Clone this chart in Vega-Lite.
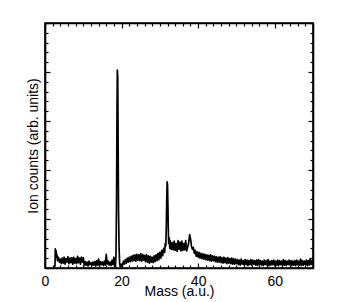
{
  "$schema": "https://vega.github.io/schema/vega-lite/v6.json",
  "autosize": {"type": "none"},
  "padding": {"left": 45, "top": 23, "right": 33, "bottom": 34},
  "width": 268,
  "height": 245,
  "background": "white",
  "config": {
    "view": {"stroke": "black", "strokeWidth": 1.6},
    "font": "Liberation Sans",
    "axis": {"domainColor": "black", "domainWidth": 1.6, "tickColor": "black", "tickWidth": 1.2, "labelColor": "black", "titleColor": "black", "labelFontSize": 14, "titleFontSize": 14, "titleFontWeight": "normal", "grid": false, "labelFont": "Liberation Sans", "titleFont": "Liberation Sans"}
  },
  "data": {"values": [
    {"m":2.5,"c":0.02},{"m":2.6,"c":0.05},{"m":2.7,"c":0.39},{"m":2.8,"c":0.30},{"m":2.9,"c":0.35},{"m":3.0,"c":0.22},{"m":3.1,"c":0.28},{"m":3.25,"c":0.15},{"m":3.5,"c":0.22},{"m":3.75,"c":0.12},{"m":4.0,"c":0.18},
    {"m":4.25,"c":0.09},{"m":4.5,"c":0.2},{"m":4.75,"c":0.1},{"m":5.0,"c":0.22},{"m":5.25,"c":0.08},{"m":5.5,"c":0.19},{"m":5.75,"c":0.12},{"m":6.0,"c":0.23},{"m":6.25,"c":0.09},{"m":6.5,"c":0.2},{"m":6.75,"c":0.11},{"m":7.0,"c":0.21},{"m":7.25,"c":0.08},{"m":7.5,"c":0.22},{"m":7.75,"c":0.1},{"m":8.0,"c":0.19},{"m":8.25,"c":0.09},{"m":8.5,"c":0.24},{"m":8.75,"c":0.11},{"m":9.0,"c":0.2},{"m":9.25,"c":0.08},{"m":9.5,"c":0.22},{"m":9.75,"c":0.12},{"m":10.0,"c":0.21},
    {"m":10.25,"c":0.05},{"m":10.5,"c":0.13},{"m":10.75,"c":0.06},{"m":11.0,"c":0.12},{"m":11.25,"c":0.04},{"m":11.5,"c":0.14},{"m":11.75,"c":0.07},{"m":12.0,"c":0.11},{"m":12.25,"c":0.05},{"m":12.5,"c":0.12},{"m":12.75,"c":0.06},{"m":13.0,"c":0.13},{"m":13.25,"c":0.04},{"m":13.5,"c":0.15},{"m":13.75,"c":0.06},{"m":14.0,"c":0.18},{"m":14.25,"c":0.05},{"m":14.5,"c":0.13},{"m":14.75,"c":0.07},{"m":15.0,"c":0.12},{"m":15.25,"c":0.05},{"m":15.5,"c":0.14},{"m":15.75,"c":0.06},{"m":16.0,"c":0.28},{"m":16.25,"c":0.08},{"m":16.5,"c":0.14},{"m":16.75,"c":0.06},{"m":17.0,"c":0.12},{"m":17.25,"c":0.05},{"m":17.5,"c":0.16},{"m":17.75,"c":0.07},{"m":18.0,"c":0.22},
    {"m":18.25,"c":0.04},{"m":18.4,"c":0.02},{"m":18.55,"c":0.3},{"m":18.7,"c":1.5},{"m":18.8,"c":3.2},{"m":18.9,"c":4.04},{"m":19.0,"c":3.9},{"m":19.1,"c":2.6},{"m":19.2,"c":1.2},{"m":19.35,"c":0.4},{"m":19.5,"c":0.1},{"m":19.65,"c":0.03},{"m":19.8,"c":0.02},{"m":20.0,"c":0.08},
    {"m":20.25,"c":0.06},{"m":20.5,"c":0.14},{"m":20.75,"c":0.08},{"m":21.0,"c":0.17},{"m":21.25,"c":0.1},{"m":21.5,"c":0.2},{"m":21.75,"c":0.12},{"m":22.0,"c":0.22},{"m":22.25,"c":0.13},{"m":22.5,"c":0.24},{"m":22.75,"c":0.14},{"m":23.0,"c":0.26},{"m":23.25,"c":0.15},{"m":23.5,"c":0.27},{"m":23.75,"c":0.14},{"m":24.0,"c":0.28},{"m":24.25,"c":0.16},{"m":24.5,"c":0.27},{"m":24.75,"c":0.15},{"m":25.0,"c":0.29},{"m":25.25,"c":0.14},{"m":25.5,"c":0.28},{"m":25.75,"c":0.16},{"m":26.0,"c":0.26},{"m":26.25,"c":0.13},{"m":26.5,"c":0.27},{"m":26.75,"c":0.12},{"m":27.0,"c":0.25},{"m":27.25,"c":0.1},{"m":27.5,"c":0.24},{"m":27.75,"c":0.12},{"m":28.0,"c":0.22},{"m":28.25,"c":0.11},{"m":28.5,"c":0.25},{"m":28.75,"c":0.13},{"m":29.0,"c":0.27},{"m":29.25,"c":0.15},{"m":29.5,"c":0.3},{"m":29.75,"c":0.17},{"m":30.0,"c":0.32},{"m":30.25,"c":0.2},{"m":30.5,"c":0.36},{"m":30.75,"c":0.25},{"m":31.0,"c":0.4},
    {"m":31.25,"c":0.32},{"m":31.4,"c":0.5},{"m":31.55,"c":0.45},{"m":31.7,"c":0.9},{"m":31.8,"c":1.4},{"m":31.9,"c":1.76},{"m":32.0,"c":1.7},{"m":32.1,"c":1.3},{"m":32.2,"c":0.8},{"m":32.3,"c":0.5},{"m":32.45,"c":0.62},{"m":32.6,"c":0.4},{"m":32.75,"c":0.55},{"m":33.0,"c":0.38},
    {"m":33.25,"c":0.52},{"m":33.5,"c":0.37},{"m":33.75,"c":0.55},{"m":34.0,"c":0.36},{"m":34.25,"c":0.5},{"m":34.5,"c":0.34},{"m":34.75,"c":0.56},{"m":35.0,"c":0.38},{"m":35.25,"c":0.53},{"m":35.5,"c":0.35},{"m":35.75,"c":0.55},{"m":36.0,"c":0.36},{"m":36.25,"c":0.5},{"m":36.5,"c":0.37},{"m":36.75,"c":0.56},{"m":37.0,"c":0.35},
    {"m":37.25,"c":0.42},{"m":37.5,"c":0.5},{"m":37.65,"c":0.6},{"m":37.8,"c":0.68},{"m":37.95,"c":0.62},{"m":38.1,"c":0.55},{"m":38.25,"c":0.45},{"m":38.5,"c":0.38},{"m":38.75,"c":0.42},{"m":39.0,"c":0.3},
    {"m":39.25,"c":0.36},{"m":39.5,"c":0.24},{"m":39.75,"c":0.33},{"m":40.0,"c":0.22},{"m":40.25,"c":0.32},{"m":40.5,"c":0.2},{"m":40.75,"c":0.3},{"m":41.0,"c":0.19},{"m":41.25,"c":0.29},{"m":41.5,"c":0.18},{"m":41.75,"c":0.28},{"m":42.0,"c":0.17},{"m":42.25,"c":0.27},{"m":42.5,"c":0.16},{"m":42.75,"c":0.26},{"m":43.0,"c":0.15},{"m":43.25,"c":0.27},{"m":43.5,"c":0.14},{"m":43.75,"c":0.25},{"m":44.0,"c":0.15},{"m":44.25,"c":0.24},{"m":44.5,"c":0.13},{"m":44.75,"c":0.23},{"m":45.0,"c":0.12},{"m":45.25,"c":0.22},{"m":45.5,"c":0.12},{"m":45.75,"c":0.23},{"m":46.0,"c":0.11},{"m":46.25,"c":0.21},{"m":46.5,"c":0.1},{"m":46.75,"c":0.22},{"m":47.0,"c":0.11},{"m":47.25,"c":0.2},{"m":47.5,"c":0.09},{"m":47.75,"c":0.21},{"m":48.0,"c":0.1},{"m":48.25,"c":0.19},{"m":48.5,"c":0.09},{"m":48.75,"c":0.2},{"m":49.0,"c":0.08},{"m":49.25,"c":0.19},{"m":49.5,"c":0.08},{"m":49.75,"c":0.18},{"m":50.0,"c":0.09},
    {"m":50.25,"c":0.17},{"m":50.5,"c":0.07},{"m":50.75,"c":0.16},{"m":51.0,"c":0.06},{"m":51.25,"c":0.18},{"m":51.5,"c":0.08},{"m":51.75,"c":0.15},{"m":52.0,"c":0.06},{"m":52.25,"c":0.17},{"m":52.5,"c":0.07},{"m":52.75,"c":0.16},{"m":53.0,"c":0.05},{"m":53.25,"c":0.15},{"m":53.5,"c":0.07},{"m":53.75,"c":0.17},{"m":54.0,"c":0.06},{"m":54.25,"c":0.16},{"m":54.5,"c":0.08},{"m":54.75,"c":0.15},{"m":55.0,"c":0.06},
    {"m":55.25,"c":0.16},{"m":55.5,"c":0.05},{"m":55.75,"c":0.17},{"m":56.0,"c":0.07},{"m":56.25,"c":0.15},{"m":56.5,"c":0.06},{"m":56.75,"c":0.14},{"m":57.0,"c":0.05},{"m":57.25,"c":0.16},{"m":57.5,"c":0.07},{"m":57.75,"c":0.15},{"m":58.0,"c":0.06},{"m":58.25,"c":0.17},{"m":58.5,"c":0.05},{"m":58.75,"c":0.14},{"m":59.0,"c":0.06},{"m":59.25,"c":0.15},{"m":59.5,"c":0.07},{"m":59.75,"c":0.16},{"m":60.0,"c":0.05},
    {"m":60.25,"c":0.14},{"m":60.5,"c":0.06},{"m":60.75,"c":0.16},{"m":61.0,"c":0.05},{"m":61.25,"c":0.15},{"m":61.5,"c":0.07},{"m":61.75,"c":0.14},{"m":62.0,"c":0.05},{"m":62.25,"c":0.17},{"m":62.5,"c":0.06},{"m":62.75,"c":0.15},{"m":63.0,"c":0.05},{"m":63.25,"c":0.14},{"m":63.5,"c":0.07},{"m":63.75,"c":0.16},{"m":64.0,"c":0.06},{"m":64.25,"c":0.15},{"m":64.5,"c":0.05},{"m":64.75,"c":0.14},{"m":65.0,"c":0.06},
    {"m":65.25,"c":0.15},{"m":65.5,"c":0.05},{"m":65.75,"c":0.16},{"m":66.0,"c":0.07},{"m":66.25,"c":0.14},{"m":66.5,"c":0.06},{"m":66.75,"c":0.18},{"m":67.0,"c":0.05},{"m":67.25,"c":0.15},{"m":67.5,"c":0.06},{"m":67.75,"c":0.14},{"m":68.0,"c":0.07},{"m":68.25,"c":0.16},{"m":68.5,"c":0.05},{"m":68.75,"c":0.15},{"m":69.0,"c":0.06},{"m":69.25,"c":0.19},{"m":69.5,"c":0.07},{"m":69.75,"c":0.15},{"m":70.0,"c":0.06}
  ]},
  "resolve": {"axis": {"x": "independent", "y": "independent"}},
  "layer": [
    {
      "mark": {"type": "line", "color": "black", "strokeWidth": 1.7, "strokeJoin": "round"},
      "encoding": {
        "x": {"field": "m", "type": "quantitative", "scale": {"domain": [0, 70], "nice": false, "zero": false},
          "axis": {"orient": "bottom", "title": "Mass (a.u.)", "titlePadding": -4, "values": [0, 20, 40, 60],
            "tickSize": -5, "labelPadding": 11, "labelFlush": false, "labelOverlap": false}},
        "y": {"field": "c", "type": "quantitative", "scale": {"domain": [0, 5], "nice": false},
          "axis": {"orient": "left", "title": "Ion counts (arb. units)", "titlePadding": 4, "labels": false,
            "values": [0, 1, 2, 3, 4, 5], "tickSize": -5}}
      }
    },
    {
      "mark": {"type": "line", "strokeOpacity": 0},
      "encoding": {
        "x": {"field": "m", "type": "quantitative",
          "axis": {"orient": "bottom", "title": null, "labels": false, "domain": false, "tickSize": -3,
            "values": [2,4,6,8,10,12,14,16,18,22,24,26,28,30,32,34,36,38,42,44,46,48,50,52,54,56,58,62,64,66,68]}},
        "y": {"field": "c", "type": "quantitative",
          "axis": {"orient": "left", "title": null, "labels": false, "domain": false, "tickSize": -3,
            "values": [0.2,0.4,0.6,0.8,1.2,1.4,1.6,1.8,2.2,2.4,2.6,2.8,3.2,3.4,3.6,3.8,4.2,4.4,4.6,4.8]}}
      }
    },
    {
      "mark": {"type": "line", "strokeOpacity": 0},
      "encoding": {
        "x": {"field": "m", "type": "quantitative",
          "axis": {"orient": "top", "title": null, "labels": false, "domain": true, "tickSize": -5, "values": [0, 20, 40, 60]}},
        "y": {"field": "c", "type": "quantitative",
          "axis": {"orient": "right", "title": null, "labels": false, "domain": true, "tickSize": -5, "values": [0, 1, 2, 3, 4, 5]}}
      }
    },
    {
      "mark": {"type": "line", "strokeOpacity": 0},
      "encoding": {
        "x": {"field": "m", "type": "quantitative",
          "axis": {"orient": "top", "title": null, "labels": false, "domain": false, "tickSize": -3,
            "values": [2,4,6,8,10,12,14,16,18,22,24,26,28,30,32,34,36,38,42,44,46,48,50,52,54,56,58,62,64,66,68]}},
        "y": {"field": "c", "type": "quantitative",
          "axis": {"orient": "right", "title": null, "labels": false, "domain": false, "tickSize": -3,
            "values": [0.2,0.4,0.6,0.8,1.2,1.4,1.6,1.8,2.2,2.4,2.6,2.8,3.2,3.4,3.6,3.8,4.2,4.4,4.6,4.8]}}
      }
    }
  ]
}
